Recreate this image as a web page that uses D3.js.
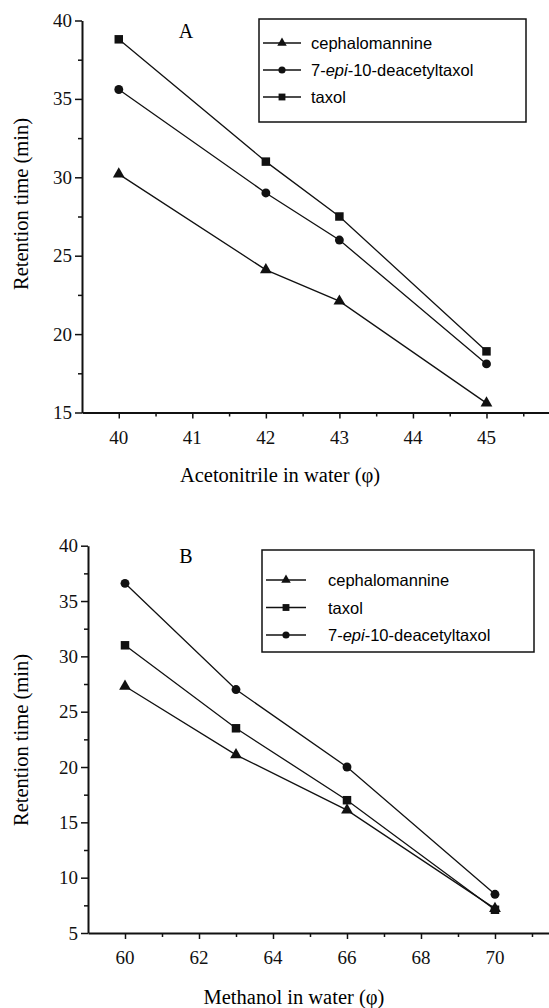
<!DOCTYPE html>
<html>
<head>
<meta charset="utf-8">
<script src="https://cdn.jsdelivr.net/npm/d3@7"></script>
<style>
  body { margin: 0; background: #fff; }
  svg { display: block; }
</style>
</head>
<body>
<script>
// Panel A: acetonitrile
const xA = [40, 42, 43, 45];
const cephaA = [30.2, 24.1, 22.1, 15.6];
const epiA = [35.6, 29.0, 26.0, 18.1];
const taxolA = [38.8, 31.0, 27.5, 18.9];
const xTicksA = [40, 41, 42, 43, 44, 45];
const yTicksA = [15, 20, 25, 30, 35, 40];

// Panel B: methanol
const xB = [60, 63, 66, 70];
const cephaB = [27.3, 21.1, 16.1, 7.2];
const taxolB = [31.0, 23.5, 17.0, 7.1];
const epiB = [36.6, 27.0, 20.0, 8.5];
const xTicksB = [60, 62, 64, 66, 68, 70];
const yTicksB = [5, 10, 15, 20, 25, 30, 35, 40];

const width = 549, height = 1008;
const serif = '"Liberation Serif", "DejaVu Serif", serif';
const sans = '"Liberation Sans", Arial, sans-serif';

const svg = d3.select('body').append('svg')
  .attr('width', width)
  .attr('height', height)
  .style('background', '#fff');

const markerSize = { triangle: 60, circle: 62, square: 72 };
const markerType = { triangle: d3.symbolTriangle, circle: d3.symbolCircle, square: d3.symbolSquare };
const sym = (m, k = 1) => d3.symbol().type(markerType[m]).size(markerSize[m] * k)();

function panel(opt) {
  const x = d3.scaleLinear().domain(opt.xDomain).range(opt.xRange);
  const y = d3.scaleLinear().domain(opt.yDomain).range(opt.yRange);
  const g = svg.append('g');

  // minor ticks
  const xMinor = d3.range(opt.xDomain[0], opt.xDomain[1], opt.xMinorStep)
    .map(v => Math.round(v / opt.xMinorStep) * opt.xMinorStep)
    .filter(v => v > opt.xDomain[0] && !opt.xTicks.includes(v));
  const yMinor = d3.range(opt.yDomain[0] + 2.5, opt.yDomain[1], 5);

  g.append('g')
    .attr('transform', `translate(0,${opt.yRange[0]})`)
    .call(d3.axisBottom(x).tickValues(xMinor).tickSize(4).tickFormat(''))
    .call(a => a.select('.domain').remove());
  g.append('g')
    .attr('transform', `translate(${opt.xRange[0]},0)`)
    .call(d3.axisLeft(y).tickValues(yMinor).tickSize(4).tickFormat(''))
    .call(a => a.select('.domain').remove());

  g.append('g')
    .attr('transform', `translate(0,${opt.yRange[0]})`)
    .call(d3.axisBottom(x).tickValues(opt.xTicks).tickSize(6).tickSizeOuter(0).tickFormat(''))
    .call(a => a.select('.domain').attr('stroke-width', 2));
  g.append('g')
    .attr('transform', `translate(${opt.xRange[0]},0)`)
    .call(d3.axisLeft(y).tickValues(opt.yTicks).tickSize(7).tickSizeOuter(0).tickFormat(''))
    .call(a => a.select('.domain').attr('stroke-width', 2));
  g.selectAll('.tick line').attr('stroke', '#111').attr('stroke-width', 1.5);
  g.selectAll('.domain').attr('stroke', '#111');

  // tick labels (serif, like the original)
  g.selectAll(null).data(opt.xTicks).enter().append('text')
    .attr('x', d => x(d)).attr('y', opt.yRange[0] + 31)
    .attr('text-anchor', 'middle')
    .attr('font-family', serif).attr('font-size', 19).attr('fill', '#111')
    .text(d => d);
  g.selectAll(null).data(opt.yTicks).enter().append('text')
    .attr('x', opt.xRange[0] - 10).attr('y', d => y(d) + 6.5)
    .attr('text-anchor', 'end')
    .attr('font-family', serif).attr('font-size', 19).attr('fill', '#111')
    .text(d => d);

  // series
  const line = d3.line().x(d => x(d[0])).y(d => y(d[1]));
  opt.series.forEach(s => {
    const pts = opt.xs.map((v, i) => [v, s.values[i]]);
    g.append('path').datum(pts)
      .attr('d', line)
      .attr('fill', 'none')
      .attr('stroke', '#111')
      .attr('stroke-width', 1.3);
    g.selectAll(null).data(pts).enter().append('path')
      .attr('d', sym(s.marker))
      .attr('transform', d => `translate(${x(d[0])},${y(d[1])})`)
      .attr('fill', '#111');
  });

  // panel letter
  g.append('text')
    .attr('x', opt.letterPos[0]).attr('y', opt.letterPos[1])
    .attr('text-anchor', 'middle')
    .attr('font-family', serif).attr('font-size', 20)
    .text(opt.letter);

  // axis titles
  g.append('text')
    .attr('x', opt.xTitlePos[0]).attr('y', opt.xTitlePos[1])
    .attr('text-anchor', 'middle')
    .attr('font-family', serif).attr('font-size', 20.5)
    .text(opt.xTitle);
  g.append('text')
    .attr('transform', `translate(${opt.yTitlePos[0]},${opt.yTitlePos[1]}) rotate(-90)`)
    .attr('text-anchor', 'middle')
    .attr('font-family', serif).attr('font-size', 20.5)
    .text('Retention time (min)');

  // legend
  const L = opt.legend;
  g.append('rect')
    .attr('x', L.x).attr('y', L.y).attr('width', L.w).attr('height', L.h)
    .attr('fill', '#fff').attr('stroke', '#111').attr('stroke-width', 1.5);
  opt.series.forEach((s, i) => {
    const ry = L.y + L.first + i * L.step;
    g.append('line')
      .attr('x1', L.x + 4).attr('x2', L.x + 4 + L.lineLen)
      .attr('y1', ry).attr('y2', ry)
      .attr('stroke', '#111').attr('stroke-width', 1.3);
    g.append('path')
      .attr('d', sym(s.marker, 0.65))
      .attr('transform', `translate(${L.x + 4 + L.lineLen / 2},${ry})`)
      .attr('fill', '#111');
    const t = g.append('text')
      .attr('x', L.x + L.textOff).attr('y', ry + 6)
      .attr('font-family', sans).attr('font-size', 16.5);
    if (s.name === 'epi') {
      t.append('tspan').text('7-');
      t.append('tspan').attr('font-style', 'italic').text('epi');
      t.append('tspan').text('-10-deacetyltaxol');
    } else {
      t.text(s.name);
    }
  });
}

panel({
  xs: xA,
  series: [
    { name: 'cephalomannine', values: cephaA, marker: 'triangle' },
    { name: 'epi', values: epiA, marker: 'circle' },
    { name: 'taxol', values: taxolA, marker: 'square' }
  ],
  xDomain: [39.5, 45.85], xRange: [82, 549],
  yDomain: [15, 40], yRange: [412.5, 20.5],
  xTicks: xTicksA, yTicks: yTicksA, xMinorStep: 0.5,
  letter: 'A', letterPos: [186, 38],
  xTitle: 'Acetonitrile in water (\u03c6)', xTitlePos: [280, 482],
  yTitlePos: [28, 204],
  legend: { x: 259, y: 19, w: 267, h: 103, first: 24, step: 27, lineLen: 38, textOff: 52 }
});

panel({
  xs: xB,
  series: [
    { name: 'cephalomannine', values: cephaB, marker: 'triangle' },
    { name: 'taxol', values: taxolB, marker: 'square' },
    { name: 'epi', values: epiB, marker: 'circle' }
  ],
  xDomain: [59, 71.46], xRange: [88, 549],
  yDomain: [5, 40], yRange: [933, 545.7],
  xTicks: xTicksB, yTicks: yTicksB, xMinorStep: 1,
  letter: 'B', letterPos: [186, 563],
  xTitle: 'Methanol in water (\u03c6)', xTitlePos: [294, 1004],
  yTitlePos: [28, 740],
  legend: { x: 262, y: 550, w: 272, h: 102, first: 30, step: 27.5, lineLen: 40, textOff: 66 }
});
</script>
</body>
</html>
